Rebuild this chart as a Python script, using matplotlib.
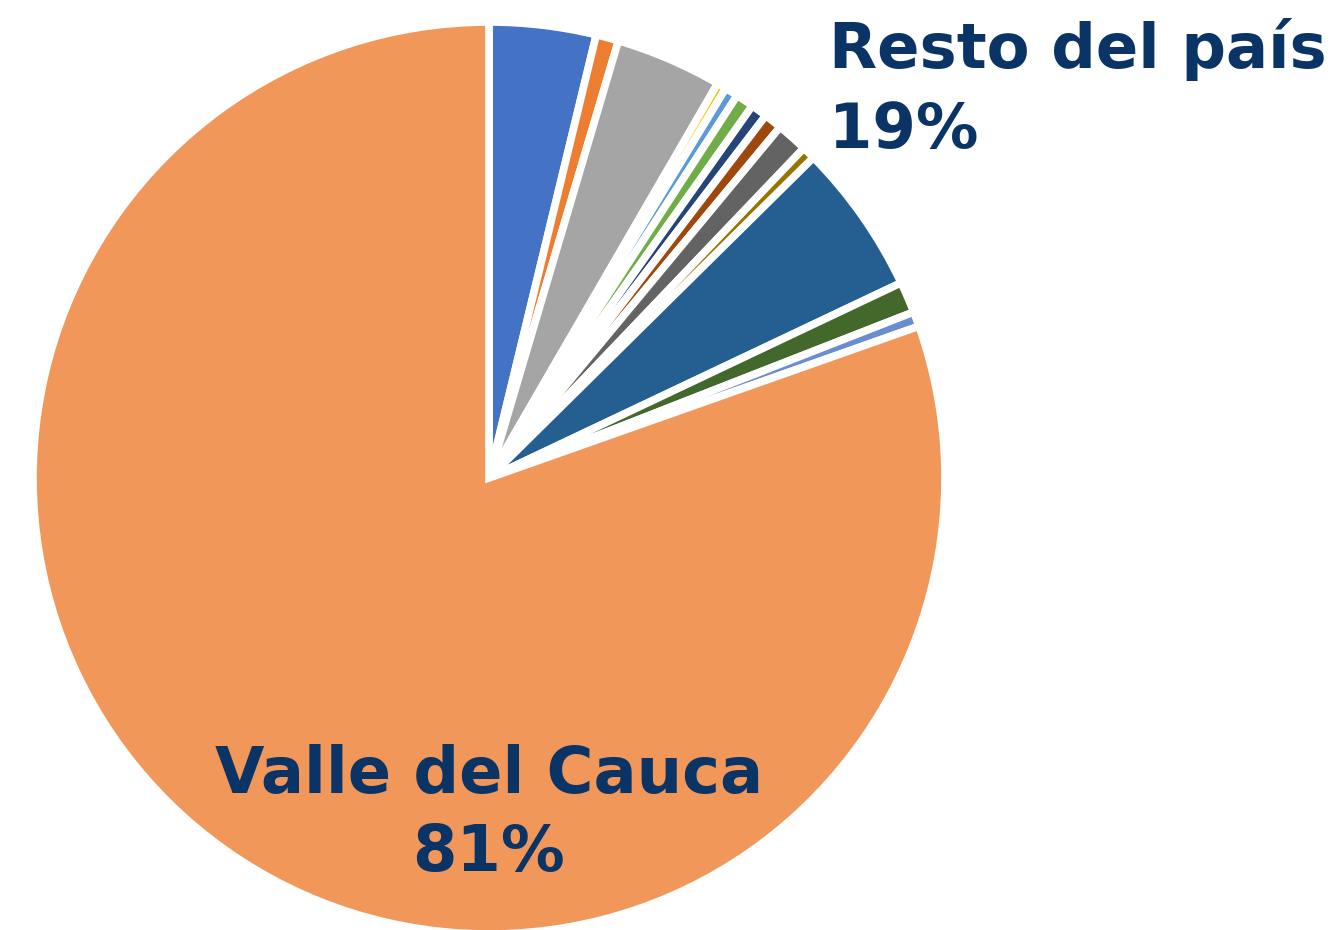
import matplotlib
matplotlib.use("Agg")
import matplotlib.pyplot as plt

# Shares by department (percent), clockwise from 12 o'clock
departments = ["Dpto 1", "Dpto 2", "Dpto 3", "Dpto 4", "Dpto 5", "Dpto 6", "Dpto 7",
               "Dpto 8", "Dpto 9", "Dpto 10", "Dpto 11", "Dpto 12", "Dpto 13",
               "Valle del Cauca"]
shares = [3.78, 0.80, 3.78, 0.33, 0.47, 0.64, 0.58, 0.64, 1.11, 0.47, 5.36, 1.11, 0.53, 80.4]
colors = ["#4472C4", "#ED7D31", "#A5A5A5", "#FFC000", "#5B9BD5", "#70AD47", "#264478",
          "#9E480E", "#636363", "#997300", "#255E91", "#43682B", "#698ED0", "#F1975A"]

label_resto = "Resto del país"
pct_resto = "19%"
label_valle = "Valle del Cauca"
pct_valle = "81%"

W, H = 1333, 930
fig = plt.figure(figsize=(W / 100, H / 100), dpi=100)
ax = fig.add_axes([0, 0, 1, 1])
ax.pie(shares, colors=colors, startangle=90, counterclock=False,
       center=(489, H - 478), radius=456,
       wedgeprops=dict(edgecolor="white", linewidth=5.5))
ax.set_xlim(0, W)
ax.set_ylim(0, H)
ax.set_aspect("equal")
ax.axis("off")

navy = "#0B3466"
ax.text(829, H - 68, label_resto, ha="left", va="baseline", fontsize=45,
        fontweight="bold", color=navy, family="DejaVu Sans")
ax.text(829, H - 148, pct_resto, ha="left", va="baseline", fontsize=45,
        fontweight="bold", color=navy, family="DejaVu Sans")
ax.text(489, H - 793, label_valle, ha="center", va="baseline", fontsize=46,
        fontweight="bold", color=navy, family="DejaVu Sans")
ax.text(489, H - 871, pct_valle, ha="center", va="baseline", fontsize=46,
        fontweight="bold", color=navy, family="DejaVu Sans")

fig.savefig("out.png", dpi=100)
